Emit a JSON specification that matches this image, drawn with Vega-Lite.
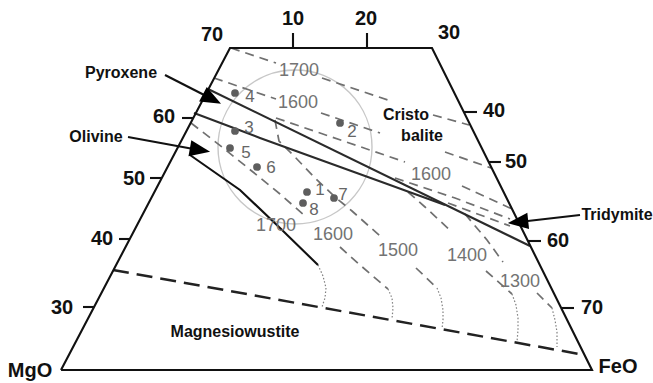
{
  "$schema": "https://vega.github.io/schema/vega-lite/v6.json",
  "width": 653,
  "height": 383,
  "padding": 0,
  "autosize": {"type": "fit", "contains": "padding"},
  "background": "white",
  "config": {"view": {"stroke": null}},
  "datasets": {
    "lines": [
      {"g":"frame","k":"frame","i":0,"x":61,"y":370},{"g":"frame","k":"frame","i":1,"x":230,"y":48},{"g":"frame","k":"frame","i":2,"x":432,"y":48},{"g":"frame","k":"frame","i":3,"x":592,"y":370},{"g":"frame","k":"frame","i":4,"x":61,"y":370},
      {"g":"t10","k":"frame","i":0,"x":293,"y":33},{"g":"t10","k":"frame","i":1,"x":293,"y":48},
      {"g":"t20","k":"frame","i":0,"x":367,"y":33},{"g":"t20","k":"frame","i":1,"x":367,"y":48},
      {"g":"l60","k":"frame","i":0,"x":182,"y":118},{"g":"l60","k":"frame","i":1,"x":193,"y":118},
      {"g":"l50","k":"frame","i":0,"x":150,"y":178},{"g":"l50","k":"frame","i":1,"x":161,"y":178},
      {"g":"l40","k":"frame","i":0,"x":119,"y":239},{"g":"l40","k":"frame","i":1,"x":130,"y":239},
      {"g":"l30","k":"frame","i":0,"x":83,"y":307},{"g":"l30","k":"frame","i":1,"x":94,"y":307},
      {"g":"r40","k":"frame","i":0,"x":464,"y":112},{"g":"r40","k":"frame","i":1,"x":477,"y":112},
      {"g":"r50","k":"frame","i":0,"x":489,"y":162},{"g":"r50","k":"frame","i":1,"x":501,"y":162},
      {"g":"r60","k":"frame","i":0,"x":528,"y":241},{"g":"r60","k":"frame","i":1,"x":541,"y":241},
      {"g":"r70","k":"frame","i":0,"x":561,"y":308},{"g":"r70","k":"frame","i":1,"x":574,"y":308},
      {"g":"ap","k":"frame","i":0,"x":165,"y":75},{"g":"ap","k":"frame","i":1,"x":212,"y":99},
      {"g":"ao","k":"frame","i":0,"x":128,"y":137},{"g":"ao","k":"frame","i":1,"x":199,"y":150},
      {"g":"at","k":"frame","i":0,"x":580,"y":215},{"g":"at","k":"frame","i":1,"x":519,"y":222},
      {"g":"s17","k":"frame","i":0,"x":190,"y":155},{"g":"s17","k":"frame","i":1,"x":240,"y":190},{"g":"s17","k":"frame","i":2,"x":280,"y":228},{"g":"s17","k":"frame","i":3,"x":318,"y":265},
      {"g":"cu","k":"cot","i":0,"x":208,"y":89},{"g":"cu","k":"cot","i":1,"x":530,"y":246},
      {"g":"cl","k":"cot","i":0,"x":194,"y":113},{"g":"cl","k":"cot","i":1,"x":260,"y":138},{"g":"cl","k":"cot","i":2,"x":390,"y":185},{"g":"cl","k":"cot","i":3,"x":445,"y":205},
      {"g":"a0","k":"iso","i":0,"x":231,"y":48},{"g":"a0","k":"iso","i":1,"x":276,"y":63},
      {"g":"a1","k":"iso","i":0,"x":322,"y":78},{"g":"a1","k":"iso","i":1,"x":388,"y":100},
      {"g":"a2","k":"iso","i":0,"x":433,"y":115},{"g":"a2","k":"iso","i":1,"x":469,"y":125},
      {"g":"b0","k":"iso","i":0,"x":214,"y":78},{"g":"b0","k":"iso","i":1,"x":276,"y":99},
      {"g":"b1","k":"iso","i":0,"x":321,"y":113},{"g":"b1","k":"iso","i":1,"x":380,"y":133},
      {"g":"b2","k":"iso","i":0,"x":445,"y":152},{"g":"b2","k":"iso","i":1,"x":491,"y":168},
      {"g":"t1a","k":"iso","i":0,"x":276,"y":118},{"g":"t1a","k":"iso","i":1,"x":405,"y":162},
      {"g":"t1b","k":"iso","i":0,"x":462,"y":186},{"g":"t1b","k":"iso","i":1,"x":512,"y":209},
      {"g":"t2","k":"iso","i":0,"x":395,"y":178},{"g":"t2","k":"iso","i":1,"x":455,"y":198},{"g":"t2","k":"iso","i":2,"x":510,"y":219},
      {"g":"t3","k":"iso","i":0,"x":448,"y":203},{"g":"t3","k":"iso","i":1,"x":510,"y":226},
      {"g":"i16a","k":"iso","i":0,"x":191,"y":123},{"g":"i16a","k":"iso","i":1,"x":222,"y":147},{"g":"i16a","k":"iso","i":2,"x":253,"y":172},{"g":"i16a","k":"iso","i":3,"x":280,"y":194},{"g":"i16a","k":"iso","i":4,"x":305,"y":216},
      {"g":"i16b","k":"iso","i":0,"x":340,"y":247},{"g":"i16b","k":"iso","i":1,"x":360,"y":265},{"g":"i16b","k":"iso","i":2,"x":388,"y":289},
      {"g":"i15a","k":"iso","i":0,"x":275,"y":120},{"g":"i15a","k":"iso","i":1,"x":279,"y":141},{"g":"i15a","k":"iso","i":2,"x":295,"y":157},{"g":"i15a","k":"iso","i":3,"x":315,"y":178},{"g":"i15a","k":"iso","i":4,"x":335,"y":197},{"g":"i15a","k":"iso","i":5,"x":352,"y":211},{"g":"i15a","k":"iso","i":6,"x":380,"y":236},
      {"g":"i15b","k":"iso","i":0,"x":416,"y":268},{"g":"i15b","k":"iso","i":1,"x":437,"y":288},
      {"g":"i14a","k":"iso","i":0,"x":408,"y":192},{"g":"i14a","k":"iso","i":1,"x":425,"y":207},{"g":"i14a","k":"iso","i":2,"x":452,"y":232},
      {"g":"i14b","k":"iso","i":0,"x":486,"y":271},{"g":"i14b","k":"iso","i":1,"x":512,"y":294},
      {"g":"i13a","k":"iso","i":0,"x":465,"y":214},{"g":"i13a","k":"iso","i":1,"x":487,"y":240},{"g":"i13a","k":"iso","i":2,"x":503,"y":262},
      {"g":"i13b","k":"iso","i":0,"x":537,"y":293},{"g":"i13b","k":"iso","i":1,"x":552,"y":308},
      {"g":"bot","k":"bot","i":0,"x":113,"y":270},{"g":"bot","k":"bot","i":1,"x":585,"y":355},
      {"g":"d17","k":"dot","i":0,"x":318,"y":265},{"g":"d17","k":"dot","i":1,"x":323,"y":276},{"g":"d17","k":"dot","i":2,"x":326,"y":288},{"g":"d17","k":"dot","i":3,"x":325,"y":298},{"g":"d17","k":"dot","i":4,"x":322,"y":307},
      {"g":"d16","k":"dot","i":0,"x":388,"y":289},{"g":"d16","k":"dot","i":1,"x":392,"y":298},{"g":"d16","k":"dot","i":2,"x":393,"y":308},{"g":"d16","k":"dot","i":3,"x":392,"y":319},
      {"g":"d15","k":"dot","i":0,"x":437,"y":288},{"g":"d15","k":"dot","i":1,"x":441,"y":298},{"g":"d15","k":"dot","i":2,"x":443,"y":310},{"g":"d15","k":"dot","i":3,"x":443,"y":320},{"g":"d15","k":"dot","i":4,"x":442,"y":329},
      {"g":"d14","k":"dot","i":0,"x":512,"y":294},{"g":"d14","k":"dot","i":1,"x":516,"y":305},{"g":"d14","k":"dot","i":2,"x":518,"y":318},{"g":"d14","k":"dot","i":3,"x":518,"y":330},{"g":"d14","k":"dot","i":4,"x":517,"y":342},
      {"g":"d13","k":"dot","i":0,"x":552,"y":308},{"g":"d13","k":"dot","i":1,"x":555,"y":320},{"g":"d13","k":"dot","i":2,"x":557,"y":332},{"g":"d13","k":"dot","i":3,"x":557,"y":347}
    ],
    "labels": [
      {"t":"70","k":"big","x":212,"y":35},{"t":"10","k":"big","x":293,"y":19},{"t":"20","k":"big","x":366,"y":19},{"t":"30","k":"big","x":449,"y":33},
      {"t":"60","k":"big","x":164,"y":117},{"t":"50","k":"big","x":134,"y":179},{"t":"40","k":"big","x":102,"y":239},{"t":"30","k":"big","x":62,"y":308},
      {"t":"40","k":"big","x":494,"y":111},{"t":"50","k":"big","x":516,"y":162},{"t":"60","k":"big","x":558,"y":241},{"t":"70","k":"big","x":592,"y":308},
      {"t":"MgO","k":"big","x":30,"y":371},{"t":"FeO","k":"big","x":618,"y":367},
      {"t":"Pyroxene","k":"field","x":121,"y":73},{"t":"Olivine","k":"field","x":96,"y":137},{"t":"Cristo","k":"field","x":406,"y":115},{"t":"balite","k":"field","x":422,"y":136},{"t":"Tridymite","k":"field","x":617,"y":215},{"t":"Magnesiowustite","k":"field","x":235,"y":332},
      {"t":"1700","k":"iso","x":299,"y":71},{"t":"1600","k":"iso","x":298,"y":103},{"t":"1600","k":"iso","x":431,"y":175},{"t":"1700","k":"iso","x":276,"y":226},{"t":"1600","k":"iso","x":333,"y":235},{"t":"1500","k":"iso","x":398,"y":251},{"t":"1400","k":"iso","x":467,"y":256},{"t":"1300","k":"iso","x":520,"y":282},
      {"t":"4","k":"pt","x":250,"y":97},{"t":"3","k":"pt","x":249,"y":128},{"t":"5","k":"pt","x":246,"y":153},{"t":"6","k":"pt","x":271,"y":168},{"t":"2","k":"pt","x":352,"y":132},{"t":"1","k":"pt","x":320,"y":190},{"t":"8","k":"pt","x":314,"y":210},{"t":"7","k":"pt","x":343,"y":195}
    ],
    "points": [
      {"id":"4","x":235,"y":93},{"id":"3","x":235,"y":131},{"id":"5","x":230,"y":148},{"id":"6","x":257,"y":167},{"id":"2","x":340,"y":123},{"id":"1","x":307,"y":192},{"id":"8","x":303,"y":203},{"id":"7","x":334,"y":198}
    ],
    "field": [{"name":"sample field","x":295,"y":147}],
    "heads": [{"a":"Pyroxene","x":212,"y":99},{"a":"Olivine","x":200,"y":150},{"a":"Tridymite","x":518,"y":222}]
  },
  "encoding": {
    "x": {"field": "x", "type": "quantitative", "scale": {"domain": [0, 653], "nice": false, "zero": false}, "axis": null},
    "y": {"field": "y", "type": "quantitative", "scale": {"domain": [0, 383], "reverse": true, "nice": false, "zero": false}, "axis": null}
  },
  "layer": [
    {"data": {"name": "field"}, "mark": {"type": "point", "shape": "circle", "filled": false, "size": 23716, "stroke": "#b0b0b0", "strokeWidth": 1.4}},
    {"data": {"name": "lines"}, "transform": [{"filter": "datum.k == 'dot'"}], "mark": {"type": "line", "stroke": "#808080", "strokeWidth": 1.2, "strokeDash": [1.5, 2]}, "encoding": {"detail": {"field": "g"}, "order": {"field": "i", "type": "quantitative"}}},
    {"data": {"name": "lines"}, "transform": [{"filter": "datum.k == 'iso'"}], "mark": {"type": "line", "stroke": "#707070", "strokeWidth": 1.7, "strokeDash": [9, 6]}, "encoding": {"detail": {"field": "g"}, "order": {"field": "i", "type": "quantitative"}}},
    {"data": {"name": "lines"}, "transform": [{"filter": "datum.k == 'bot'"}], "mark": {"type": "line", "stroke": "#222222", "strokeWidth": 2.5, "strokeDash": [16, 8]}, "encoding": {"detail": {"field": "g"}, "order": {"field": "i", "type": "quantitative"}}},
    {"data": {"name": "lines"}, "transform": [{"filter": "datum.k == 'cot'"}], "mark": {"type": "line", "stroke": "#2b2b2b", "strokeWidth": 2.1}, "encoding": {"detail": {"field": "g"}, "order": {"field": "i", "type": "quantitative"}}},
    {"data": {"name": "lines"}, "transform": [{"filter": "datum.k == 'frame'"}], "mark": {"type": "line", "stroke": "#111111", "strokeWidth": 2.1}, "encoding": {"detail": {"field": "g"}, "order": {"field": "i", "type": "quantitative"}}},
    {"data": {"name": "heads"}, "transform": [{"filter": "datum.a == 'Pyroxene'"}], "mark": {"type": "point", "shape": "M1,0L-1,-0.8L-1,0.8Z", "filled": true, "fill": "#000000", "opacity": 1, "size": 420, "angle": 28}},
    {"data": {"name": "heads"}, "transform": [{"filter": "datum.a == 'Olivine'"}], "mark": {"type": "point", "shape": "M1,0L-1,-0.8L-1,0.8Z", "filled": true, "fill": "#000000", "opacity": 1, "size": 420, "angle": 10}},
    {"data": {"name": "heads"}, "transform": [{"filter": "datum.a == 'Tridymite'"}], "mark": {"type": "point", "shape": "M1,0L-1,-0.8L-1,0.8Z", "filled": true, "fill": "#000000", "opacity": 1, "size": 420, "angle": 174}},
    {"data": {"name": "points"}, "mark": {"type": "point", "shape": "circle", "filled": true, "fill": "#5e5e5e", "opacity": 1, "size": 60}},
    {"data": {"name": "labels"}, "transform": [{"filter": "datum.k == 'big'"}], "mark": {"type": "text", "font": "Liberation Sans", "fontWeight": "bold", "fontSize": 20, "fill": "#111111", "align": "center", "baseline": "middle"}, "encoding": {"text": {"field": "t"}}},
    {"data": {"name": "labels"}, "transform": [{"filter": "datum.k == 'field'"}], "mark": {"type": "text", "font": "Liberation Sans", "fontWeight": "bold", "fontSize": 16, "fill": "#111111", "align": "center", "baseline": "middle"}, "encoding": {"text": {"field": "t"}}},
    {"data": {"name": "labels"}, "transform": [{"filter": "datum.k == 'iso'"}], "mark": {"type": "text", "font": "Liberation Sans", "fontSize": 18, "fill": "#737373", "align": "center", "baseline": "middle"}, "encoding": {"text": {"field": "t"}}},
    {"data": {"name": "labels"}, "transform": [{"filter": "datum.k == 'pt'"}], "mark": {"type": "text", "font": "Liberation Sans", "fontSize": 17, "fill": "#666666", "align": "center", "baseline": "middle"}, "encoding": {"text": {"field": "t"}}}
  ]
}
